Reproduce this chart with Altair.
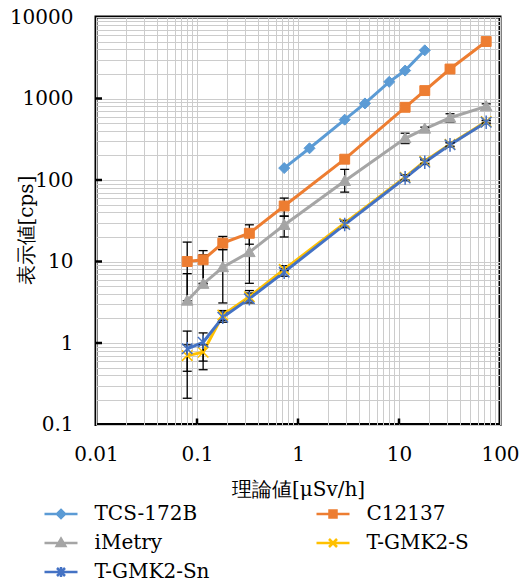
import altair as alt
import pandas as pd

# ---------------- data ----------------
series = ["TCS-172B", "C12137", "iMetry", "T-GMK2-S", "T-GMK2-Sn"]
colors = ["#5B9BD5", "#ED7D31", "#A5A5A5", "#FFC000", "#4472C4"]

x_tcs = [0.73, 1.3, 2.9, 4.6, 8.0, 11.5, 18]
y_tcs = [140, 245, 550, 870, 1600, 2200, 3900]

x_dose = [0.08, 0.115, 0.18, 0.33, 0.73, 2.9, 11.5, 18, 32, 73]

y_c12137 = [10.0, 10.5, 16.8, 22.2, 48, 180, 780, 1250, 2300, 5000]
lo_c12137 = [3.0, 5.4, 14.0, 16.3, 36, 172, 750, 1200, 2250, 4950]
hi_c12137 = [17.3, 13.6, 20.3, 28.2, 60, 188, 815, 1300, 2350, 5050]

y_imetry = [3.3, 5.3, 8.5, 13.0, 28, 97, 325, 425, 580, 800]
lo_imetry = [3.3, 5.3, 3.1, 5.4, 20, 71, 280, 405, 510, 740]
hi_imetry = [7.1, 12.1, 14.0, 20.6, 36, 135, 375, 445, 650, 860]

y_gmk_s = [0.70, 0.77, 2.2, 3.7, 8.0, 29.5, 108, 170, 275, 520]
lo_gmk_s = [0.45, 0.60, 1.9, 3.3, 7.7, 27, 100, 160, 260, 500]
hi_gmk_s = [0.95, 0.95, 2.5, 4.4, 8.9, 32, 116, 180, 290, 540]

y_gmk_sn = [0.85, 1.02, 2.07, 3.5, 7.4, 28.4, 106, 165, 270, 512]
lo_gmk_sn = [0.21, 0.47, 1.8, 3.1, 6.6, 26, 98, 155, 255, 490]
hi_gmk_sn = [1.4, 1.33, 2.4, 4.1, 8.2, 31, 114, 176, 285, 535]

x_major = [0.1, 1, 10]
y_major = [1, 10, 100, 1000]

# ---------------- tables ----------------
rows = []
for xv, yv in zip(x_tcs, y_tcs):
    rows.append({"series": "TCS-172B", "x": xv, "y": yv})
for name, ys in [("C12137", y_c12137), ("iMetry", y_imetry),
                 ("T-GMK2-S", y_gmk_s), ("T-GMK2-Sn", y_gmk_sn)]:
    for xv, yv in zip(x_dose, ys):
        rows.append({"series": name, "x": xv, "y": yv})
df = pd.DataFrame(rows)

err_rows = []
cap_rows = []
for name, los, his in [("C12137", lo_c12137, hi_c12137), ("iMetry", lo_imetry, hi_imetry),
                       ("T-GMK2-S", lo_gmk_s, hi_gmk_s), ("T-GMK2-Sn", lo_gmk_sn, hi_gmk_sn)]:
    for xv, lo, hi in zip(x_dose, los, his):
        err_rows.append({"series": name, "x": xv, "lo": lo, "hi": hi})
        cap_rows.append({"series": name, "x": xv, "y": hi})
        cap_rows.append({"series": name, "x": xv, "y": lo})
err_df = pd.DataFrame(err_rows)
cap_df = pd.DataFrame(cap_rows)

xt_df = pd.DataFrame({"x": x_major})
yt_df = pd.DataFrame({"y": y_major})
leg_df = pd.DataFrame({"series": series})

# ---------------- styling ----------------
FONT = "DejaVu Serif"
W, H = 404, 407.5

x_grid = [round(m * 10.0 ** k, 6) for k in range(-2, 2) for m in range(1, 10)] + [100.0]
y_grid = [round(m * 10.0 ** k, 6) for k in range(-1, 4) for m in range(1, 10)] + [10000.0]
major_test = "abs(log(datum.value)/LN10 - round(log(datum.value)/LN10)) < 0.001"
label_expr = f"{major_test} ? format(datum.value, '~g') : ''"

x_axis = alt.Axis(values=x_grid, labelExpr=label_expr, grid=True, ticks=False, domain=False,
                  labelPadding=20, labelFlush=False, labelOverlap=False,
                  title="理論値[μSv/h]", titleY=65, titleBaseline="middle")
y_axis = alt.Axis(values=y_grid, labelExpr=label_expr, grid=True, ticks=False, domain=False,
                  labelPadding=23, labelFlush=False, labelOverlap=False,
                  title="表示値[cps]", titleX=-70, titleY=213, titleBaseline="middle",
                  titleAlign="center")
x_scale = alt.Scale(type="log", domain=[0.01, 100], nice=False)
y_scale = alt.Scale(type="log", domain=[0.1, 10000], nice=False)


def X(field="x"):
    return alt.X(f"{field}:Q", scale=x_scale, axis=x_axis)


def Y(field="y"):
    return alt.Y(f"{field}:Q", scale=y_scale, axis=y_axis)


marker_paths = {
    "TCS-172B": "M0,-1L1,0L0,1L-1,0Z",
    "C12137": "M-0.9,-0.9L0.9,-0.9L0.9,0.9L-0.9,0.9Z",
    "iMetry": "M0,-1.05L1.05,0.8L-1.05,0.8Z",
    "T-GMK2-S": "M-1,-1L1,1M-1,1L1,-1",
    "T-GMK2-Sn": "M-1,-1L1,1M-1,1L1,-1M0,-1.3L0,1.3",
}
legend_paths = [
    "M-3.3,0L3.3,0M0,-0.8L0.8,0L0,0.8L-0.8,0Z",
    "M-3.3,0L3.3,0M-0.7,-0.7L0.7,-0.7L0.7,0.7L-0.7,0.7Z",
    "M-3.3,0L3.3,0M0,-0.85L0.85,0.6L-0.85,0.6Z",
    "M-3.3,0L3.3,0M-0.8,-0.8L0.8,0.8M-0.8,0.8L0.8,-0.8",
    "M-3.3,0L3.3,0M-0.8,-0.8L0.8,0.8M-0.8,0.8L0.8,-0.8M0,-1L0,1",
]

layers = []

# major tick marks (inward)
layers.append(alt.Chart(xt_df).mark_rule(color="black", strokeWidth=2.5).encode(
    x=X(), y=alt.value(H - 6), y2=alt.value(H)))
layers.append(alt.Chart(yt_df).mark_rule(color="black", strokeWidth=2.5).encode(
    y=Y(), x=alt.value(0), x2=alt.value(6)))

# lines
for s, c in zip(series, colors):
    layers.append(alt.Chart(df).transform_filter(alt.datum.series == s)
                  .mark_line(strokeWidth=3, color=c).encode(x=X(), y=Y()))

# error bars
layers.append(alt.Chart(err_df).mark_rule(color="black", strokeWidth=1.3).encode(
    x=X(), y=Y("lo"), y2="hi:Q"))
layers.append(alt.Chart(cap_df).mark_tick(color="black", orient="horizontal", size=9,
                                          thickness=1.3, opacity=1).encode(x=X(), y=Y()))

# markers
for s, c in zip(series, colors):
    filled = s in ("TCS-172B", "C12137", "iMetry")
    if filled:
        mk = alt.Chart(df).transform_filter(alt.datum.series == s).mark_point(
            shape=marker_paths[s], filled=True, size=121, color=c, stroke=c,
            strokeWidth=1, opacity=1)
    else:
        mk = alt.Chart(df).transform_filter(alt.datum.series == s).mark_point(
            shape=marker_paths[s], filled=False, size=110, color=c,
            strokeWidth=1.5, opacity=1)
    layers.append(mk.encode(x=X(), y=Y()))

# legend-only layer (points placed off canvas)
leg = alt.Legend(title=None, orient="none", legendX=-45, legendY=487, columns=2,
                 direction="horizontal",
                 columnPadding=101, rowPadding=9, labelOffset=23.5, padding=0,
                 labelFont=FONT, labelFontSize=20, labelColor="black",
                 symbolStrokeWidth=2.5, labelLimit=300)
layers.append(alt.Chart(leg_df).mark_point(filled=True, size=196, opacity=1, strokeWidth=2.5,
                                           clip=True).encode(
    x=alt.value(-3000), y=alt.value(-3000),
    fill=alt.Fill("series:N", scale=alt.Scale(domain=series, range=colors), legend=leg),
    stroke=alt.Stroke("series:N", scale=alt.Scale(domain=series, range=colors), legend=leg),
    shape=alt.Shape("series:N", scale=alt.Scale(domain=series, range=legend_paths), legend=leg),
))

chart = alt.layer(*layers).properties(
    width=W, height=H,
    autosize=alt.AutoSizeParams(type="none"),
    padding={"left": 96, "top": 17, "right": 20, "bottom": 157.5},
).configure_view(stroke="black", strokeWidth=3).configure_axis(
    labelFont=FONT, labelFontSize=20, labelColor="black",
    titleFont=FONT, titleFontSize=20, titleFontWeight="normal", titleColor="black",
    gridColor="#CCCCCC", gridWidth=1, gridOpacity=1,
)

chart.save("out.html", embed_options={"renderer": "svg", "actions": False})
